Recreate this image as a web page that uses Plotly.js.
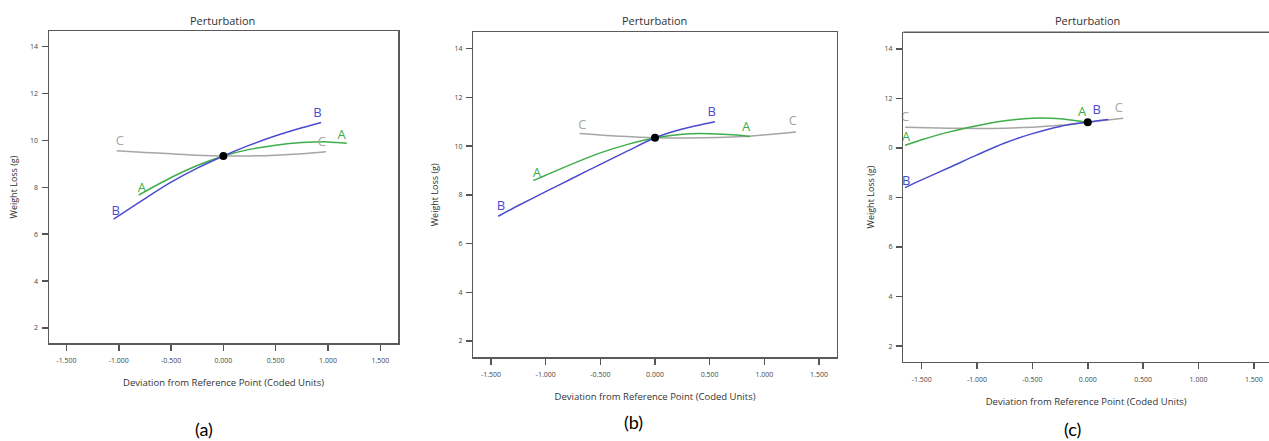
<!DOCTYPE html>
<html>
<head>
<meta charset="utf-8">
<script src="https://cdn.plot.ly/plotly-3.0.1.min.js"></script>
<style>html,body{margin:0;padding:0;background:#fff;overflow:hidden;}#chart{width:1269px;height:441px;}</style>
</head>
<body>
<div id="chart"></div>
<script>
// ---- data ----
const xTickVals = [-1.5, -1, -0.5, 0, 0.5, 1, 1.5];
const xTickText = ["-1.500", "-1.000", "-0.500", "0.000", "0.500", "1.000", "1.500"];
const yTickVals = [2, 4, 6, 8, 10, 12, 14];
const yTickTextAB = ["2", "4", "6", "8", "10", "12", "14"];
const yTickTextC = ["2", "4", "6", "8", "0", "12", "14"];

// panel (a)
const aA_x = [-0.81, -0.5, -0.25, 0, 0.25, 0.5, 0.75, 1.0, 1.18];
const aA_y = [7.67, 8.42, 8.93, 9.34, 9.62, 9.80, 9.91, 9.94, 9.88];
const aB_x = [-1.05, -0.75, -0.5, -0.25, 0, 0.25, 0.5, 0.75, 0.934];
const aB_y = [6.64, 7.52, 8.22, 8.82, 9.34, 9.80, 10.20, 10.54, 10.77];
const aC_x = [-1.02, -0.75, -0.5, -0.25, 0, 0.25, 0.5, 0.75, 0.98];
const aC_y = [9.56, 9.49, 9.43, 9.37, 9.34, 9.34, 9.37, 9.43, 9.52];
const aRef = [0, 9.34];
const aLab_x = [-0.78, 1.13, -1.03, 0.90, -0.99, 0.94];
const aLab_y = [7.96, 10.22, 6.96, 11.15, 9.94, 9.90];

// panel (b)
const bA_x = [-1.113, -1.0, -0.75, -0.5, -0.25, 0, 0.25, 0.5, 0.75, 0.869];
const bA_y = [8.58, 8.80, 9.28, 9.72, 10.07, 10.34, 10.49, 10.51, 10.45, 10.39];
const bB_x = [-1.434, -1.25, -1.0, -0.75, -0.5, -0.25, 0, 0.25, 0.549];
const bB_y = [7.12, 7.56, 8.13, 8.69, 9.25, 9.80, 10.34, 10.70, 11.00];
const bC_x = [-0.69, -0.3, 0, 0.3, 0.8, 1.29];
const bC_y = [10.52, 10.40, 10.34, 10.33, 10.39, 10.58];
const bRef = [0, 10.34];
const bLab_x = [-1.08, 0.833, -1.409, 0.519, -0.665, 1.26];
const bLab_y = [8.87, 10.75, 7.50, 11.37, 10.85, 10.98];

// panel (c)
const cA_x = [-1.65, -1.5, -1.25, -1.0, -0.75, -0.5, -0.25, 0];
const cA_y = [10.11, 10.33, 10.65, 10.90, 11.10, 11.20, 11.18, 11.04];
const cB_x = [-1.65, -1.5, -1.25, -1.0, -0.75, -0.5, -0.25, 0, 0.186];
const cB_y = [8.40, 8.71, 9.21, 9.72, 10.20, 10.58, 10.87, 11.04, 11.15];
const cC_x = [-1.65, -1.25, -1.0, -0.75, -0.5, -0.25, 0, 0.32];
const cC_y = [10.84, 10.80, 10.79, 10.80, 10.84, 10.92, 11.04, 11.20];
const cRef = [0, 11.04];
const cLab_x = [-1.64, -0.05, -1.64, 0.08, -1.65, 0.28];
const cLab_y = [10.42, 11.41, 8.63, 11.52, 11.23, 11.59];

const labText = ["A", "A", "B", "B", "C", "C"];

// ---- styling ----
const colA = "#3dae49", colB = "#4b4bd0", colC = "#a6a6a6";
const labColors = [colA, colA, colB, colB, colC, colC];
const uiFont = "Open Sans, Noto Sans, sans-serif";

function panelTraces(ax, ay, A, B, C, ref, lx, ly) {
  const base = {xaxis: ax, yaxis: ay, hoverinfo: "skip"};
  return [
    Object.assign({type: "scatter", mode: "lines", x: C[0], y: C[1], line: {color: colC, width: 1.5, shape: "spline", smoothing: 0.8}}, base),
    Object.assign({type: "scatter", mode: "lines", x: A[0], y: A[1], line: {color: colA, width: 1.5, shape: "spline", smoothing: 0.8}}, base),
    Object.assign({type: "scatter", mode: "lines", x: B[0], y: B[1], line: {color: colB, width: 1.5, shape: "spline", smoothing: 0.8}}, base),
    Object.assign({type: "scatter", mode: "markers", x: [ref[0]], y: [ref[1]], marker: {color: "#000", size: 8}}, base),
    Object.assign({type: "scatter", mode: "text", x: lx, y: ly, text: labText, cliponaxis: false,
      textfont: {family: uiFont, size: 13, color: labColors}, textposition: "middle center"}, base)
  ];
}

const data = [].concat(
  panelTraces("x", "y", [aA_x, aA_y], [aB_x, aB_y], [aC_x, aC_y], aRef, aLab_x, aLab_y),
  panelTraces("x2", "y2", [bA_x, bA_y], [bB_x, bB_y], [bC_x, bC_y], bRef, bLab_x, bLab_y),
  panelTraces("x3", "y3", [cA_x, cA_y], [cB_x, cB_y], [cC_x, cC_y], cRef, cLab_x, cLab_y)
);

function xAxis(domain, range, anchor, mirror, standoff) {
  return {
    domain: domain, range: range, anchor: anchor,
    tickmode: "array", tickvals: xTickVals, ticktext: xTickText,
    ticks: "outside", ticklen: 6, tickwidth: 1.5, tickcolor: "#555",
    ticklabelstandoff: 4,
    showline: true, mirror: mirror, linecolor: "#5a5a5a", linewidth: 1.5,
    showgrid: false, zeroline: false, fixedrange: true,
    tickfont: {family: uiFont, size: 7, color: "#444"},
    title: {text: "Deviation from Reference Point (Coded Units)", font: {family: uiFont, size: 9.5, color: "#333"}, standoff: standoff}
  };
}
function yAxis(domain, range, anchor, mirror, ticktext, standoff) {
  return {
    domain: domain, range: range, anchor: anchor,
    tickmode: "array", tickvals: yTickVals, ticktext: ticktext,
    ticks: "outside", ticklen: 6, tickwidth: 1.5, tickcolor: "#555",
    ticklabelstandoff: 2,
    showline: true, mirror: mirror, linecolor: "#5a5a5a", linewidth: 1.5,
    showgrid: false, zeroline: false, fixedrange: true,
    tickfont: {family: uiFont, size: 7, color: "#444"},
    title: {text: "Weight Loss (g)", font: {family: uiFont, size: 9, color: "#333"}, standoff: standoff}
  };
}

const W = 1269, H = 441;
function px(x) { return x / W; }
function py(y) { return 1 - y / H; }

const capFont = {family: "Lato, Open Sans, sans-serif", size: 18, color: "#000"};
const titleFont = {family: uiFont, size: 11, color: "#333"};

const layout = {
  width: W, height: H,
  margin: {l: 0, r: 0, t: 0, b: 0},
  paper_bgcolor: "#fff", plot_bgcolor: "#fff",
  showlegend: false,
  xaxis: xAxis([px(49), px(398)], [-1.667, 1.669], "y", true, 15),
  yaxis: yAxis([98 / H, 410 / H], [1.36, 14.67], "x", true, yTickTextAB, 11),
  xaxis2: xAxis([px(473.3), px(836.7)], [-1.662, 1.662], "y2", true, 15),
  yaxis2: yAxis([83.7 / H, 408.7 / H], [1.33, 14.67], "x2", true, yTickTextAB, 14),
  xaxis3: xAxis([px(903.3), 1], [-1.666, 1.637], "y3", false, 16),
  yaxis3: yAxis([79.3 / H, 408.7 / H], [1.37, 14.67], "x3", false, yTickTextC, 8),
  shapes: [
    {type: "line", xref: "x3 domain", yref: "y3 domain", x0: 0, x1: 1, y0: 1, y1: 1,
     line: {color: "#5a5a5a", width: 1.5}}
  ],
  annotations: [
    {text: "Perturbation", x: px(222), y: py(20), xref: "paper", yref: "paper", showarrow: false, xanchor: "center", yanchor: "middle", font: titleFont},
    {text: "Perturbation", x: px(654), y: py(20.7), xref: "paper", yref: "paper", showarrow: false, xanchor: "center", yanchor: "middle", font: titleFont},
    {text: "Perturbation", x: px(1087), y: py(20.7), xref: "paper", yref: "paper", showarrow: false, xanchor: "center", yanchor: "middle", font: titleFont},
    {text: "(a)", x: px(204), y: 0, xref: "paper", yref: "paper", showarrow: false, xanchor: "center", yanchor: "bottom", borderpad: 0, font: capFont},
    {text: "(b)", x: px(633), y: py(422), xref: "paper", yref: "paper", showarrow: false, xanchor: "center", yanchor: "middle", borderpad: 0, font: capFont},
    {text: "(c)", x: px(1072), y: 0, xref: "paper", yref: "paper", showarrow: false, xanchor: "center", yanchor: "bottom", borderpad: 0, font: capFont}
  ]
};

Plotly.newPlot("chart", data, layout, {staticPlot: true, displayModeBar: false});
</script>
</body>
</html>
